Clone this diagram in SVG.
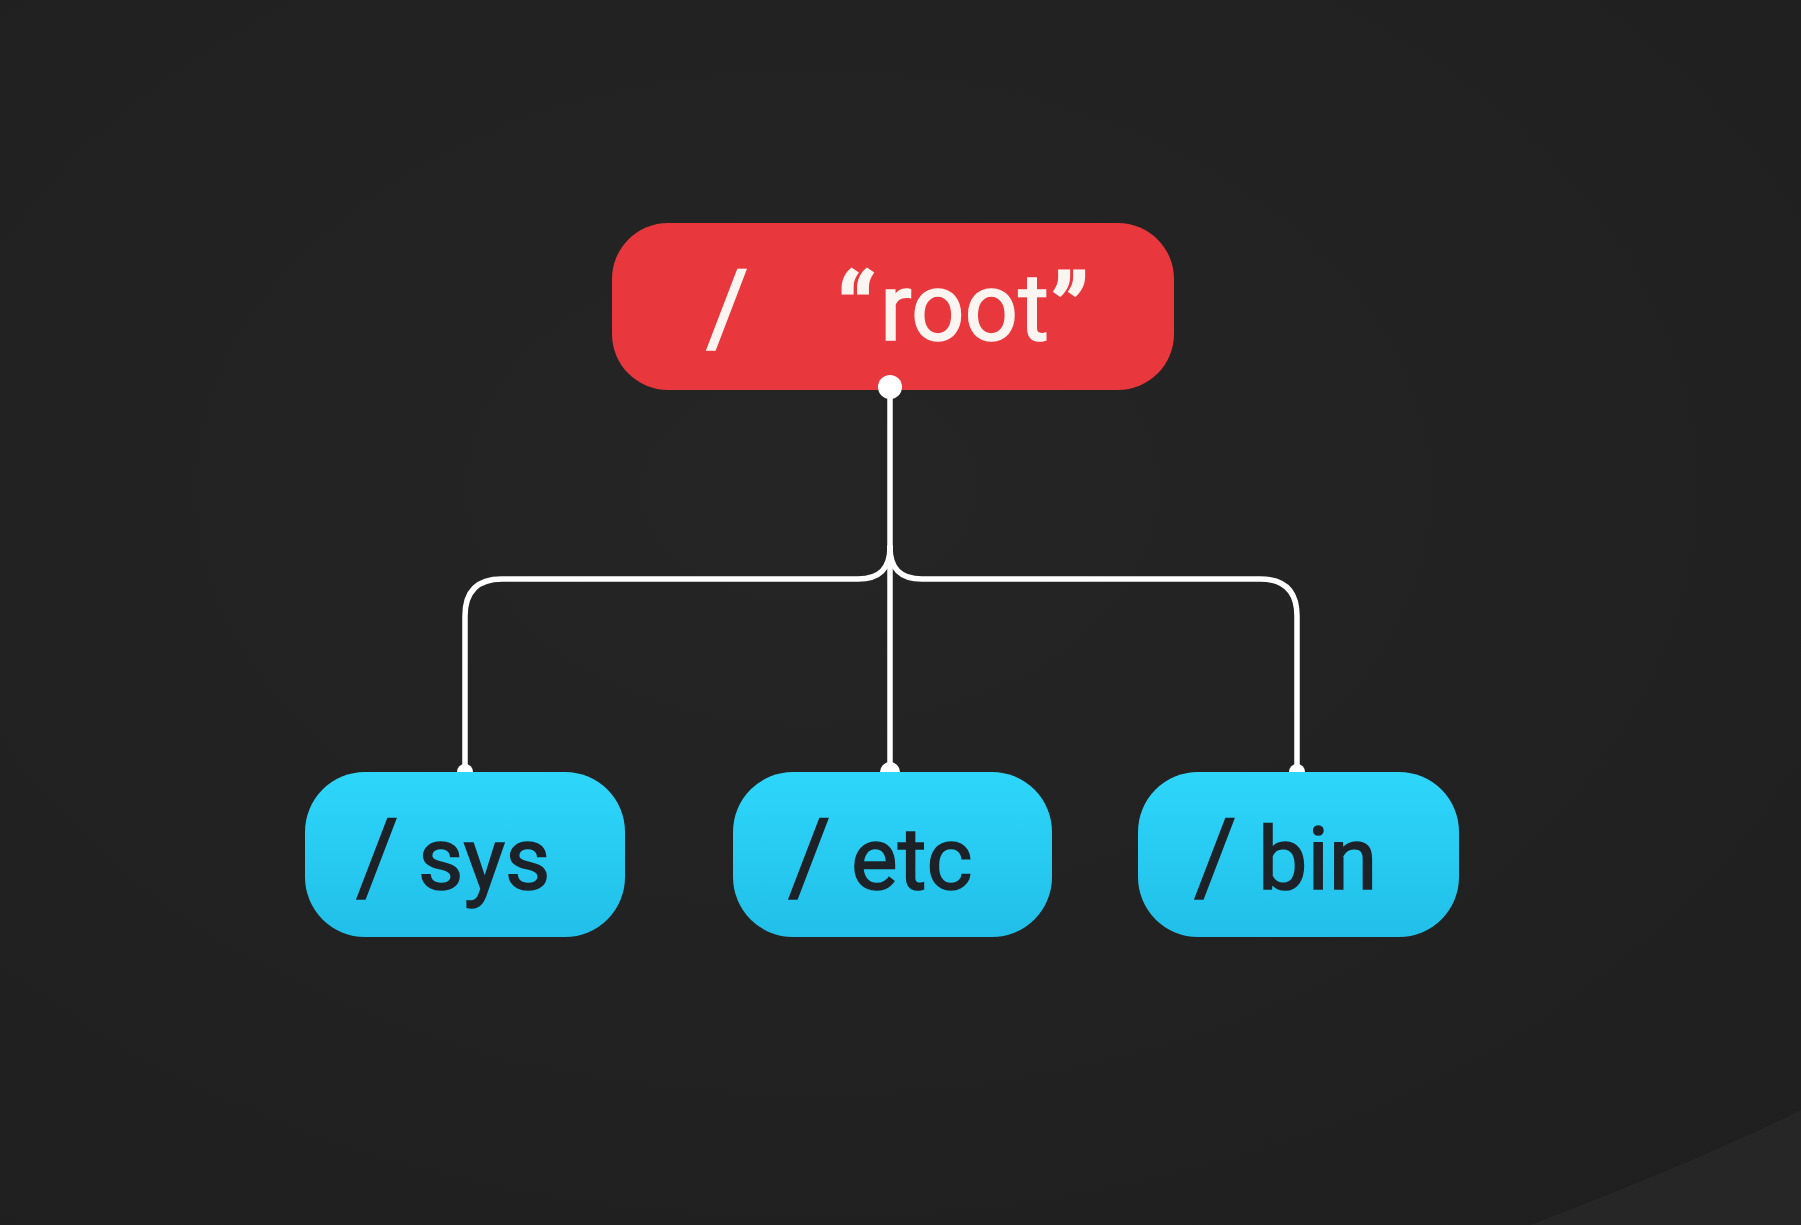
<svg xmlns="http://www.w3.org/2000/svg" width="1801" height="1225" viewBox="0 0 1801 1225">
  <defs>
    <linearGradient id="cyan" x1="0" y1="0" x2="0" y2="1">
      <stop offset="0" stop-color="#2ed6fa"/>
      <stop offset="1" stop-color="#21bfe9"/>
    </linearGradient>
    <radialGradient id="bg" cx="0.45" cy="0.4" r="0.8">
      <stop offset="0" stop-color="#252525"/>
      <stop offset="1" stop-color="#1f1f1f"/>
    </radialGradient>
  </defs>
  <style>
    .root-box { fill: #e8383d; }
    .child-box { fill: url(#cyan); }
    .label { font-family: Roboto, "Liberation Sans", sans-serif; font-weight: 400; font-size: 88px; stroke-width: 1.5; }
    .slash { font-size: 104px; }
    .quote { font-size: 100px; stroke-width: 3; }
    .root-label { fill: #fbf5f1; stroke: #fbf5f1; }
    .child-label { fill: #1d2228; stroke: #1d2228; }
    .wire { fill: none; stroke: #ffffff; stroke-width: 5.5; stroke-linecap: round; }
    .dot { fill: #ffffff; }
  </style>
  <rect width="1801" height="1225" fill="url(#bg)"/>
  <path d="M 1530 1225 Q 1700 1160 1801 1110 L 1801 1225 Z" fill="#262626"/>

  <g id="connectors">
    <path class="wire" d="M 890 387 V 770"/>
    <path class="wire" d="M 890 547 C 890 568 880 579 858 579 H 502 Q 465 579 465 616 V 770"/>
    <path class="wire" d="M 890 547 C 890 568 900 579 922 579 H 1260 Q 1297 579 1297 616 V 770"/>
    <circle class="dot" cx="465" cy="772" r="8"/>
    <circle class="dot" cx="890" cy="772" r="10"/>
    <circle class="dot" cx="1297" cy="772" r="8"/>
  </g>

  <g id="node-root">
    <rect class="root-box" x="612" y="223" width="562" height="167" rx="56"/>
    <text class="label root-label" y="340"><tspan class="slash" x="706" y="344">/</tspan><tspan class="quote" x="838" y="346">“</tspan><tspan x="880" y="340" style="font-size:94px">root</tspan><tspan class="quote" x="1052" y="346">”</tspan></text>
    <circle class="dot" cx="890" cy="387" r="12"/>
  </g>

  <g id="node-sys">
    <rect class="child-box" x="305" y="772" width="320" height="165" rx="60"/>
    <text class="label child-label" y="889"><tspan class="slash" x="356" y="893">/</tspan><tspan x="418" y="889">sys</tspan></text>
  </g>

  <g id="node-etc">
    <rect class="child-box" x="733" y="772" width="319" height="165" rx="60"/>
    <text class="label child-label" y="889"><tspan class="slash" x="788" y="893">/</tspan><tspan x="851" y="889">etc</tspan></text>
  </g>

  <g id="node-bin">
    <rect class="child-box" x="1138" y="772" width="321" height="165" rx="60"/>
    <text class="label child-label" y="889"><tspan class="slash" x="1194" y="893">/</tspan><tspan x="1258" y="889">bin</tspan></text>
  </g>
</svg>
